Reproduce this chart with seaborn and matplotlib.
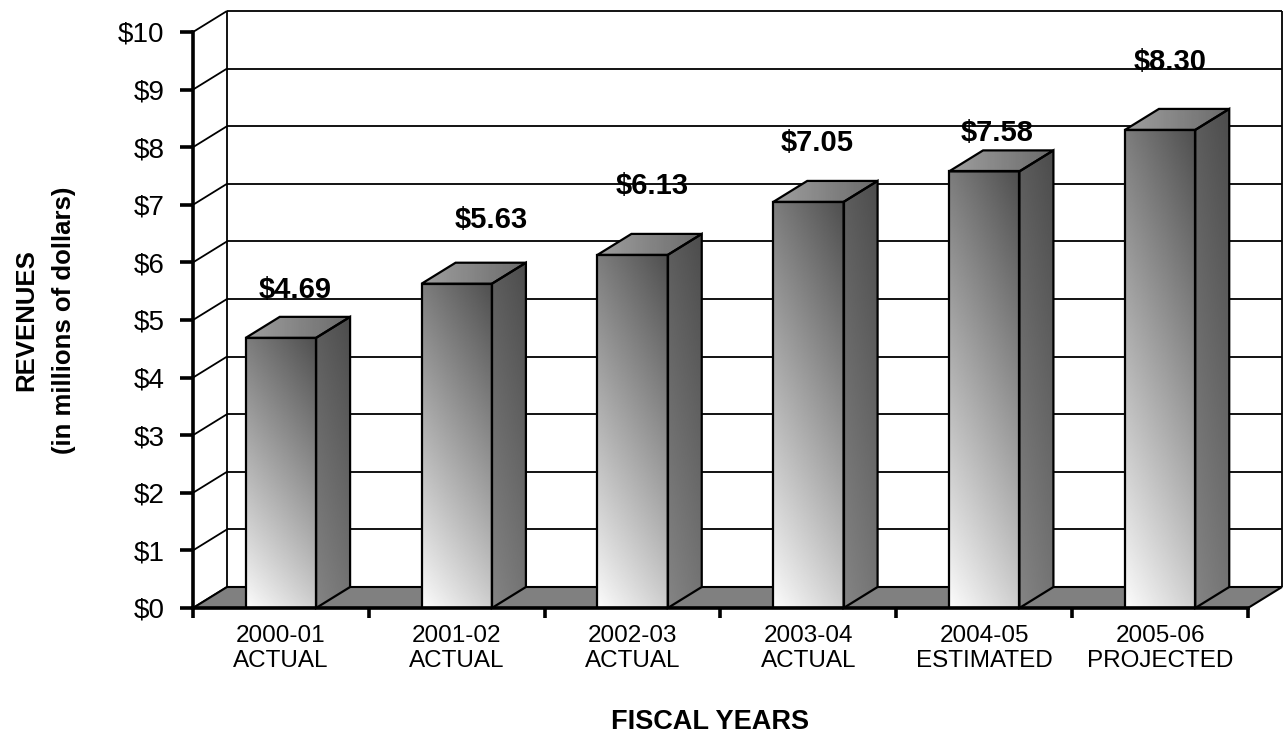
import numpy as np
import pandas as pd
import matplotlib
matplotlib.use("Agg")
import matplotlib.pyplot as plt
from matplotlib.patches import Polygon
import seaborn as sns

# ---- data -------------------------------------------------------------
years = ["2000-01", "2001-02", "2002-03", "2003-04", "2004-05", "2005-06"]
status = ["ACTUAL", "ACTUAL", "ACTUAL", "ACTUAL", "ESTIMATED", "PROJECTED"]
revenues = [4.69, 5.63, 6.13, 7.05, 7.58, 8.30]
y_ticks = list(range(0, 11))
y_tick_labels = [f"${v}" for v in y_ticks]

# value-label nudges in points (horizontal, vertical) relative to each bar
label_dx = [10, 25, 14, 6.5, 9.5, 7]
label_dy = [34.5, 46, 49.7, 42.5, 27.4, 49]

# ---- figure / axes ----------------------------------------------------
W, H = 1283, 737
sns.set_theme(style="white")
plt.rcParams["font.family"] = ["Liberation Sans", "DejaVu Sans"]
plt.rcParams["text.color"] = "black"
plt.rcParams["axes.labelcolor"] = "black"
plt.rcParams["xtick.color"] = "black"
plt.rcParams["ytick.color"] = "black"

fig = plt.figure(figsize=(W / 100, H / 100), dpi=100)
ax_left, ax_right, ax_bottom, ax_top = 193, 1248, 608, 32
ax = fig.add_axes([ax_left / W, (H - ax_bottom) / H,
                   (ax_right - ax_left) / W, (ax_bottom - ax_top) / H])

n = len(years)
px_per_x = (ax_right - ax_left) / n
px_per_y = (ax_bottom - ax_top) / 10.0
DX = 34 / px_per_x      # depth offset, horizontal (data units)
DY = 21 / px_per_y      # depth offset, vertical (data units)

df = pd.DataFrame({"year": [f"{y}\n{s}" for y, s in zip(years, status)],
                   "revenue": revenues})
sns.barplot(data=df, x="year", y="revenue", width=0.4, color="white",
            edgecolor="black", linewidth=1.6, ax=ax, zorder=6)

ax.set_xlim(-0.5, n - 0.5)
ax.set_ylim(0, 10)

# ---- back wall and floor ---------------------------------------------
x_lo, x_hi = -0.5, n - 0.5
line_kw = dict(color="black", lw=1.3, clip_on=False, solid_capstyle="butt")
for k in y_ticks:
    ax.plot([x_lo + DX, x_hi + DX], [k + DY, k + DY], zorder=1, **line_kw)
    ax.plot([x_lo, x_lo + DX], [k, k + DY], zorder=1, **line_kw)
ax.plot([x_lo + DX, x_lo + DX], [DY, 10 + DY], zorder=1, **line_kw)
ax.plot([x_hi + DX, x_hi + DX], [DY, 10 + DY], zorder=1, **line_kw)

floor = Polygon([(x_lo, 0), (x_hi, 0), (x_hi + DX, DY), (x_lo + DX, DY)],
                closed=True, facecolor="#808080", edgecolor="black",
                lw=1.5, zorder=2, clip_on=False)
ax.add_patch(floor)

# ---- shaded 3-D bars --------------------------------------------------
ny, nx = 200, 60
tt = np.linspace(0, 1, ny)[:, None]
ss = np.linspace(0, 1, nx)[None, :]
front_img = np.clip(0.99 - 0.50 * tt ** 0.9 - 0.18 * ss, 0, 1)
side_img = np.clip(0.52 - 0.16 * tt - 0.06 * ss, 0, 1)
top_img = np.clip(0.62 - 0.20 * ss + 0.0 * tt, 0, 1)

img_kw = dict(origin="lower", cmap="gray", vmin=0, vmax=1,
              aspect="auto", interpolation="bilinear")

for bar in list(ax.patches):
    if bar is floor:
        continue
    x0 = bar.get_x()
    w = bar.get_width()
    h = bar.get_height()
    x1 = x0 + w
    bar.set_facecolor("none")

    ax.imshow(front_img, extent=[x0, x1, 0, h], zorder=5, **img_kw)

    side = Polygon([(x1, 0), (x1 + DX, DY), (x1 + DX, h + DY), (x1, h)],
                   closed=True, facecolor="none", edgecolor="black",
                   lw=1.6, zorder=6, clip_on=False)
    ax.add_patch(side)
    im = ax.imshow(side_img, extent=[x1, x1 + DX, 0, h + DY], zorder=5, **img_kw)
    im.set_clip_path(side)

    top = Polygon([(x0, h), (x1, h), (x1 + DX, h + DY), (x0 + DX, h + DY)],
                  closed=True, facecolor="none", edgecolor="black",
                  lw=1.6, zorder=6, clip_on=False)
    ax.add_patch(top)
    im = ax.imshow(top_img, extent=[x0, x1 + DX, h, h + DY], zorder=5, **img_kw)
    im.set_clip_path(top)

ax.set_xlim(-0.5, n - 0.5)
ax.set_ylim(0, 10)

# ---- value labels -----------------------------------------------------
for i, v in enumerate(revenues):
    ax.annotate(f"${v:.2f}", xy=(i, v), xytext=(label_dx[i], label_dy[i]),
                textcoords="offset points", ha="center", va="center",
                fontsize=21, fontweight="bold", color="black",
                zorder=10, annotation_clip=False)

# ---- axes styling -----------------------------------------------------
for side_name in ("top", "right"):
    ax.spines[side_name].set_visible(False)
for side_name in ("left", "bottom"):
    ax.spines[side_name].set_linewidth(2.6)
    ax.spines[side_name].set_color("black")
    ax.spines[side_name].set_zorder(8)

ax.set_yticks(y_ticks, y_tick_labels)
ax.tick_params(axis="y", direction="out", length=9.5, width=2.6,
               labelsize=20, pad=11, colors="black", left=True)

ax.set_xticks(np.arange(-0.5, n, 1.0), [""] * (n + 1))
ax.set_xticks(np.arange(n), df["year"], minor=True)
ax.tick_params(axis="x", which="major", direction="out", length=7.5,
               width=2.6, bottom=True, colors="black")
ax.tick_params(axis="x", which="minor", length=0, pad=12,
               labelsize=17.5, colors="black")
for lab in ax.get_xticklabels(minor=True):
    lab.set_linespacing(1.2)

ax.set_xlabel("FISCAL YEARS", fontsize=19.5, fontweight="bold",
              va="center", color="black")
ax.xaxis.set_label_coords(0.49, (ax_bottom - 722) / (ax_bottom - ax_top))
ax.set_ylabel("REVENUES\n(in millions of dollars)", fontsize=18.5,
              fontweight="bold", va="center", linespacing=1.75, color="black")
ax.yaxis.set_label_coords((45 - ax_left) / (ax_right - ax_left), 0.5)

ax.set_facecolor("white")
fig.patch.set_facecolor("white")
fig.savefig("out.png", dpi=100, facecolor="white")
